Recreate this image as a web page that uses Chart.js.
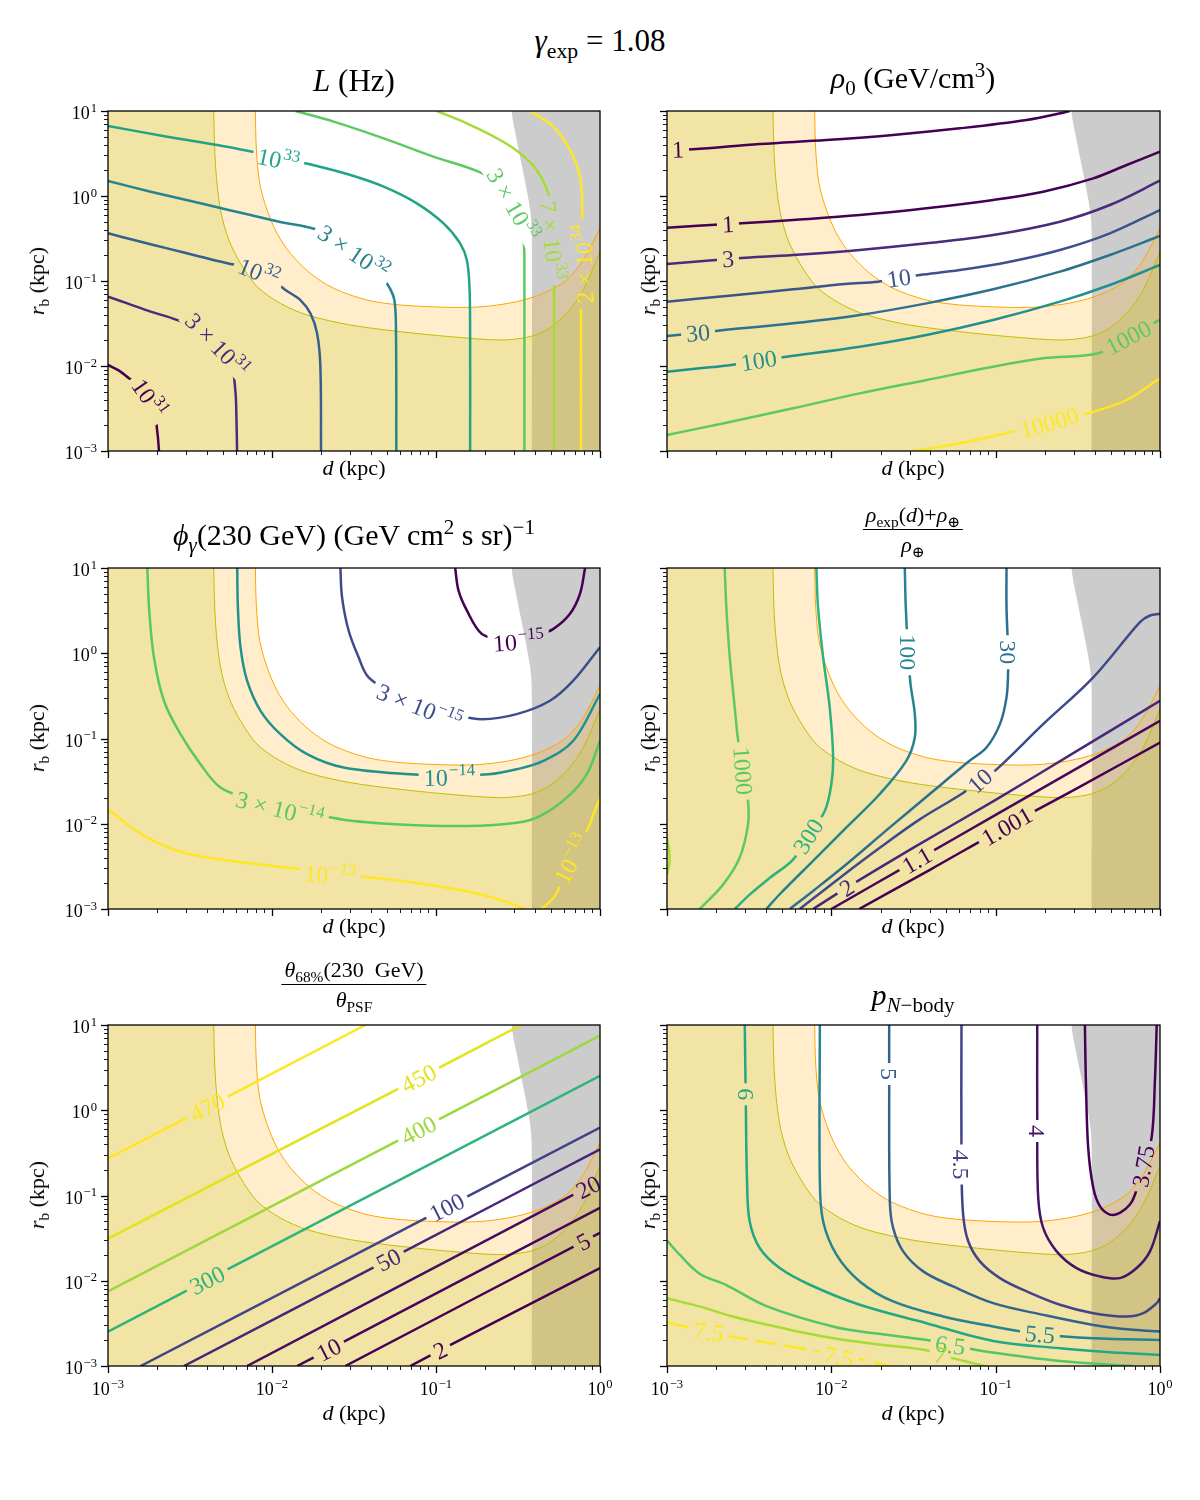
<!DOCTYPE html>
<html>
<head>
<meta charset="utf-8">
<script src="https://cdn.jsdelivr.net/npm/chart.js@4.4.1/dist/chart.umd.min.js"></script>
<style>
  body { margin: 0; background: #fff; }
  #fig { position: relative; width: 1200px; height: 1500px; font-family: 'Liberation Serif', 'DejaVu Serif', serif; color: #000; }
  #fig canvas { position: absolute; }
  .t { position: absolute; transform: translate(-50%, -50%); white-space: nowrap; line-height: 1; }
  .yl { transform: translate(-50%, -50%) rotate(-90deg); }
  sub, sup { font-size: 70%; line-height: 0; }
  .frac { display: inline-flex; flex-direction: column; align-items: center; }
  .frac .num { border-bottom: 1.3px solid #000; padding: 0 3px 3px; }
  .frac .den { padding-top: 4px; }
</style>
</head>
<body>
<div id="fig">
  <canvas id="c1" width="640" height="400" style="left:0;top:91px"></canvas>
  <canvas id="c2" width="560" height="400" style="left:640px;top:91px"></canvas>
  <canvas id="c3" width="640" height="401" style="left:0;top:548px"></canvas>
  <canvas id="c4" width="560" height="401" style="left:640px;top:548px"></canvas>
  <canvas id="c5" width="640" height="401" style="left:0;top:1005px"></canvas>
  <canvas id="c6" width="560" height="401" style="left:640px;top:1005px"></canvas>

  <div class="t" style="left:600px;top:40px;font-size:31px"><i>γ</i><sub>exp</sub> = 1.08</div>
  <div class="t" style="left:354px;top:80px;font-size:31px"><i>L</i> (Hz)</div>
  <div class="t" style="left:913px;top:78px;font-size:30px"><i>ρ</i><sub>0</sub> (GeV/cm<sup>3</sup>)</div>
  <div class="t" style="left:354px;top:535px;font-size:30px"><i>ϕ</i><sub><i>γ</i></sub>(230 GeV) (GeV cm<sup>2</sup> s sr)<sup>−1</sup></div>
  <div class="t" style="left:913px;top:530px;font-size:22px"><span class="frac"><span class="num"><i>ρ</i><sub>exp</sub>(<i>d</i>)+<i>ρ</i><sub>⊕</sub></span><span class="den"><i>ρ</i><sub>⊕</sub></span></span></div>
  <div class="t" style="left:354px;top:985px;font-size:22px"><span class="frac"><span class="num"><i>θ</i><sub>68%</sub>(230&nbsp; GeV)</span><span class="den"><i>θ</i><sub>PSF</sub></span></span></div>
  <div class="t" style="left:913px;top:995px;font-size:30px"><i>p</i><sub><i>N</i>−body</sub></div>

  <div class="t" style="left:354px;top:468px;font-size:22px"><i>d</i> (kpc)</div>
  <div class="t" style="left:913px;top:468px;font-size:22px"><i>d</i> (kpc)</div>
  <div class="t" style="left:354px;top:926px;font-size:22px"><i>d</i> (kpc)</div>
  <div class="t" style="left:913px;top:926px;font-size:22px"><i>d</i> (kpc)</div>
  <div class="t" style="left:354px;top:1413px;font-size:22px"><i>d</i> (kpc)</div>
  <div class="t" style="left:913px;top:1413px;font-size:22px"><i>d</i> (kpc)</div>

  <div class="t yl" style="left:37px;top:281px;font-size:22px"><i>r</i><sub>b</sub> (kpc)</div>
  <div class="t yl" style="left:648px;top:281px;font-size:22px"><i>r</i><sub>b</sub> (kpc)</div>
  <div class="t yl" style="left:37px;top:738px;font-size:22px"><i>r</i><sub>b</sub> (kpc)</div>
  <div class="t yl" style="left:648px;top:738px;font-size:22px"><i>r</i><sub>b</sub> (kpc)</div>
  <div class="t yl" style="left:37px;top:1195px;font-size:22px"><i>r</i><sub>b</sub> (kpc)</div>
  <div class="t yl" style="left:648px;top:1195px;font-size:22px"><i>r</i><sub>b</sub> (kpc)</div>
</div>

<script>
// every point below is [log10 d, log10 r_b]
const xTickExp = [-3, -2, -1, 0];
const yTickExp = [-3, -2, -1, 0, 1];

// shaded regions, same in all six panels
const orangeEdge = [[-2.101,1],[-2.095,0.541],[-2.075,0.149],[-2.030,-0.165],[-1.969,-0.439],[-1.888,-0.675],[-1.766,-0.910],[-1.624,-1.086],[-1.421,-1.224],[-1.218,-1.282],[-0.914,-1.310],[-0.711,-1.302],[-0.508,-1.243],[-0.345,-1.145],[-0.203,-0.988],[-0.102,-0.753],[0,-0.380],[0.08,-0.09]];
const oliveEdge = [[-2.355,1],[-2.344,0.345],[-2.314,-0.165],[-2.263,-0.518],[-2.192,-0.792],[-2.091,-1.067],[-1.949,-1.263],[-1.786,-1.400],[-1.522,-1.518],[-1.218,-1.596],[-0.914,-1.655],[-0.609,-1.694],[-0.447,-1.663],[-0.325,-1.576],[-0.203,-1.380],[-0.102,-1.106],[0,-0.655],[0.08,-0.30]];
const grayEdge = [[-0.538,1],[-0.508,0.659],[-0.467,0.267],[-0.426,-0.165],[-0.416,-0.439],[-0.416,-3]];

// panel 1: L (Hz)
const lumLevels = ['10^31', '3 × 10^31', '10^32', '3 × 10^32', '10^33', '3 × 10^33', '7 × 10^33', '2 × 10^34'];
const lumLines = [
  [[-3,-1.988],[-2.933,-2.055],[-2.872,-2.145],[-2.80,-2.25],[-2.736,-2.361],[-2.71,-2.55],[-2.704,-2.694],[-2.696,-2.831],[-2.689,-3]],
  [[-3,-1.184],[-2.882,-1.263],[-2.740,-1.361],[-2.608,-1.439],[-2.45,-1.56],[-2.324,-1.733],[-2.25,-1.95],[-2.223,-2.302],[-2.217,-2.596],[-2.213,-3]],
  [[-3,-0.439],[-2.842,-0.518],[-2.639,-0.616],[-2.436,-0.714],[-2.253,-0.800],[-2.074,-0.871],[-1.918,-1.106],[-1.827,-1.224],[-1.766,-1.380],[-1.725,-1.616],[-1.705,-2.008],[-1.701,-3]],
  [[-3,0.176],[-2.740,0.051],[-2.436,-0.086],[-2.131,-0.224],[-1.928,-0.314],[-1.776,-0.369],[-1.620,-0.470],[-1.494,-0.635],[-1.372,-0.847],[-1.293,-1.047],[-1.254,-1.224],[-1.244,-1.616],[-1.242,-3]],
  [[-3,0.824],[-2.639,0.698],[-2.334,0.6],[-2.141,0.529],[-1.958,0.455],[-1.776,0.376],[-1.522,0.247],[-1.319,0.110],[-1.117,-0.086],[-0.954,-0.322],[-0.853,-0.557],[-0.812,-0.753],[-0.796,-1.067],[-0.792,-1.616],[-0.792,-3]],
  [[-1.857,1],[-1.624,0.875],[-1.319,0.678],[-1.015,0.463],[-0.741,0.286],[-0.60,0.12],[-0.518,-0.086],[-0.475,-0.35],[-0.463,-0.6],[-0.461,-0.694],[-0.461,-3]],
  [[-0.995,1],[-0.812,0.855],[-0.609,0.659],[-0.487,0.502],[-0.386,0.306],[-0.315,0.031],[-0.288,-0.25],[-0.278,-0.518],[-0.280,-0.8],[-0.280,-1.125],[-0.280,-3]],
  [[-0.426,1],[-0.284,0.816],[-0.183,0.541],[-0.122,0.227],[-0.108,-0.224],[-0.114,-0.8],[-0.116,-1.361],[-0.116,-3]]
];
const lumLabelPos = [[0,-2.736,-2.361,55],[1,-2.324,-1.733,46],[2,-2.074,-0.871,22],[3,-1.494,-0.635,34],[4,-1.958,0.455,12],[5,-0.518,-0.086,60],[6,-0.278,-0.518,84],[7,-0.114,-0.8,-92]];
const lumColors = ['#440154','#472d7b','#355f8d','#25848e','#20a486','#5ec962','#a5db36','#fde725'];

// panel 2: rho_0 (GeV/cm^3)
const rhoLevels = ['1', '1', '3', '10', '30', '100', '1000', '10000'];
const rhoLines = [
  [[-3,0.555],[-2.933,0.549],[-2.842,0.549],[-2.436,0.612],[-2.030,0.659],[-1.624,0.718],[-1.218,0.796],[-0.812,0.894],[-0.589,0.980],[-0.55,1.0]],
  [[-3,-0.373],[-2.629,-0.33],[-2.547,-0.322],[-2.233,-0.282],[-1.827,-0.224],[-1.421,-0.145],[-1.015,-0.047],[-0.711,0.051],[-0.406,0.208],[-0.203,0.365],[0,0.522]],
  [[-3,-0.8],[-2.629,-0.74],[-2.547,-0.729],[-2.233,-0.694],[-1.827,-0.635],[-1.421,-0.557],[-1.015,-0.459],[-0.609,-0.302],[-0.305,-0.106],[0,0.180]],
  [[-3,-1.243],[-2.639,-1.176],[-2.233,-1.098],[-1.918,-1.035],[-1.715,-1.008],[-1.589,-0.965],[-1.462,-0.929],[-1.218,-0.871],[-0.914,-0.773],[-0.609,-0.635],[-0.305,-0.439],[0,-0.165]],
  [[-3,-1.647],[-2.811,-1.61],[-2.689,-1.584],[-2.233,-1.498],[-1.827,-1.4],[-1.421,-1.263],[-1.015,-1.098],[-0.609,-0.890],[-0.305,-0.694],[0,-0.471]],
  [[-3,-2.067],[-2.801,-2.027],[-2.608,-1.988],[-2.442,-1.935],[-2.274,-1.890],[-1.827,-1.773],[-1.421,-1.635],[-1.015,-1.459],[-0.609,-1.243],[-0.305,-1.047],[0,-0.812]],
  [[-3,-2.812],[-2.639,-2.667],[-2.233,-2.498],[-1.827,-2.322],[-1.421,-2.165],[-1.015,-2.008],[-0.711,-1.910],[-0.376,-1.851],[-0.193,-1.663],[-0.021,-1.478],[0,-1.455]],
  [[-1.502,-3],[-1.218,-2.910],[-0.924,-2.784],[-0.674,-2.667],[-0.426,-2.549],[-0.203,-2.4],[0,-2.145]]
];
const rhoLabelPos = [[0,-2.933,0.549,-2],[1,-2.629,-0.33,-3],[2,-2.629,-0.74,-3],[3,-1.589,-0.965,-8],[4,-2.811,-1.61,-5],[5,-2.442,-1.935,-9],[6,-0.193,-1.663,-28],[7,-0.674,-2.667,-16]];
const rhoColors = ['#440154','#440154','#472c7a','#3b528b','#2c728e','#21918c','#5ec962','#fde725'];

// panel 3: phi_gamma(230 GeV)
const phiLevels = ['10^−15', '3 × 10^−15', '10^−14', '3 × 10^−14', '10^−13', '10^−13'];
const phiLines = [
  [[-0.883,1],[-0.863,0.737],[-0.812,0.502],[-0.721,0.227],[-0.61,0.17],[-0.497,0.165],[-0.38,0.21],[-0.284,0.286],[-0.183,0.463],[-0.122,0.698],[-0.091,1]],
  [[-1.583,1],[-1.573,0.659],[-1.533,0.267],[-1.472,-0.047],[-1.411,-0.282],[-1.25,-0.48],[-1.096,-0.6],[-0.9,-0.71],[-0.721,-0.773],[-0.508,-0.714],[-0.305,-0.557],[-0.163,-0.322],[0,0.071]],
  [[-2.212,1],[-2.208,0.541],[-2.192,0.071],[-2.152,-0.322],[-2.070,-0.675],[-1.949,-0.949],[-1.786,-1.184],[-1.563,-1.341],[-1.157,-1.420],[-0.918,-1.425],[-0.680,-1.420],[-0.508,-1.361],[-0.345,-1.263],[-0.163,-1.027],[0,-0.478]],
  [[-2.760,1],[-2.750,0.541],[-2.720,-0.047],[-2.659,-0.557],[-2.558,-0.949],[-2.436,-1.302],[-2.314,-1.576],[-2.15,-1.70],[-1.949,-1.80],[-1.573,-1.949],[-1.218,-2.008],[-0.812,-2.027],[-0.508,-1.988],[-0.366,-1.910],[-0.203,-1.694],[-0.081,-1.420],[0,-1.027]],
  [[-3,-1.831],[-2.882,-2.008],[-2.740,-2.184],[-2.537,-2.341],[-2.233,-2.439],[-1.888,-2.518],[-1.644,-2.573],[-1.411,-2.627],[-1.117,-2.694],[-0.812,-2.792],[-0.609,-2.890],[-0.477,-2.988],[-0.46,-3]],
  [[-0.355,-3],[-0.284,-2.871],[-0.254,-2.773],[-0.183,-2.4],[-0.071,-2.047],[-0.041,-1.890],[-0.006,-1.733],[0.02,-1.62]]
];
const phiLabelPos = [[0,-0.497,0.165,-4],[1,-1.096,-0.6,22],[2,-0.918,-1.425,-1],[3,-1.949,-1.80,14],[4,-1.644,-2.573,5],[5,-0.183,-2.4,-62]];
const phiColors = ['#440154','#3e4c8a','#21918c','#58c765','#fde725','#fde725'];

// panel 4: (rho_exp(d) + rho_earth) / rho_earth
const ratioLevels = ['1.001', '1.1', '2', '10', '30', '100', '300', '1000', '3000'];
const ratioLines = [
  [[-1.831,-3],[-1.4,-2.54],[-0.932,-2.03],[-0.5,-1.58],[0,-1.047]],
  [[-2.0,-3],[-1.48,-2.426],[-1.0,-1.896],[-0.5,-1.344],[0,-0.792]],
  [[-2.111,-3],[-1.906,-2.75],[-1.5,-2.28],[-1.0,-1.72],[-0.5,-1.14],[0,-0.557]],
  [[-2.192,-3],[-1.949,-2.635],[-1.705,-2.282],[-1.462,-1.949],[-1.208,-1.651],[-1.096,-1.494],[-1.005,-1.380],[-0.711,-0.831],[-0.406,-0.282],[-0.122,0.365],[-0.061,0.443],[0,0.463]],
  [[-0.934,1],[-0.934,0.541],[-0.924,0.012],[-0.924,-0.204],[-0.934,-0.518],[-0.974,-0.831],[-1.056,-1.106],[-1.157,-1.259],[-1.401,-1.651],[-1.644,-2.043],[-1.908,-2.475],[-2.111,-2.788],[-2.253,-3]],
  [[-1.553,1],[-1.547,0.541],[-1.533,0.012],[-1.518,-0.361],[-1.492,-0.714],[-1.492,-0.988],[-1.543,-1.259],[-1.705,-1.651],[-1.908,-2.043],[-2.111,-2.435],[-2.314,-2.827],[-2.395,-3]],
  [[-2.091,1],[-2.081,0.541],[-2.050,-0.047],[-2.010,-0.635],[-1.989,-1.224],[-2.0,-1.537],[-2.040,-1.851],[-2.141,-2.145],[-2.233,-2.420],[-2.375,-2.635],[-2.497,-2.831],[-2.588,-3]],
  [[-2.649,1],[-2.639,0.541],[-2.618,-0.047],[-2.588,-0.635],[-2.568,-1.008],[-2.537,-1.380],[-2.507,-1.733],[-2.507,-2.008],[-2.558,-2.4],[-2.659,-2.714],[-2.801,-3]],
  [[-3,-2.17],[-2.988,-2.3],[-2.985,-2.45],[-3,-2.6]]
];
const ratioLabelPos = [[0,-0.932,-2.03,-30],[1,-1.48,-2.426,-30],[2,-1.906,-2.75,-32],[3,-1.096,-1.494,-42],[4,-0.924,0.012,90],[5,-1.533,0.012,90],[6,-2.141,-2.145,-58],[7,-2.537,-1.380,86]];
const ratioColors = ['#440154','#46085c','#482878','#3e4a89','#2d708e','#25858e','#2db27d','#5ec962','#aadc32'];

// panel 5: theta_68%(230 GeV) / theta_PSF
const thetaLevels = ['2', '5', '10', '20', '50', '100', '300', '400', '450', '470'];
const thetaLines = [
  [[-1.157,-3],[-0.974,-2.815],[0,-1.851]],
  [[-1.553,-3],[-0.102,-1.54],[0,-1.439]],
  [[-1.847,-3],[-1.654,-2.807],[0,-1.145]],
  [[-2.152,-3],[-0.071,-0.9],[0.05,-0.78]],
  [[-2.537,-3],[-1.289,-1.752],[0,-0.459]],
  [[-2.801,-3],[-0.934,-1.137],[0,-0.204]],
  [[-3,-2.596],[-2.395,-1.991],[0,0.404]],
  [[-3,-2.125],[-1.106,-0.231],[0,0.875]],
  [[-3,-1.506],[-1.106,0.375],[-0.48,1.0]],
  [[-3,-0.565],[-2.395,0.035],[-1.43,1.0]]
];
const thetaLabelPos = [[0,-0.974,-2.815,-27],[1,-0.102,-1.54,-27],[2,-1.654,-2.807,-27],[3,-0.071,-0.9,-27],[4,-1.289,-1.752,-27],[5,-0.934,-1.137,-27],[6,-2.395,-1.991,-27],[7,-1.106,-0.231,-27],[8,-1.106,0.375,-27],[9,-2.395,0.035,-27]];
const thetaColors = ['#440154','#440256','#46075a','#470d60','#482576','#414487','#2fb47c','#9bd93c','#e2e418','#fde725'];

// panel 6: p_N-body
const nbodyLevels = ['3.75', '4', '4.5', '5', '5.5', '6', '6.5', '7', '7.5'];
const nbodyLines = [
  [[-0.457,1],[-0.451,0.345],[-0.437,-0.439],[-0.406,-0.910],[-0.366,-1.125],[-0.305,-1.224],[-0.244,-1.204],[-0.183,-1.106],[-0.152,-0.988],[-0.102,-0.655],[-0.051,-0.322],[-0.031,0.345],[-0.020,1]],
  [[-0.747,1],[-0.747,-0.243],[-0.741,-1.027],[-0.711,-1.380],[-0.629,-1.655],[-0.508,-1.851],[-0.366,-1.949],[-0.244,-1.969],[-0.142,-1.851],[-0.061,-1.655],[0,-1.302]],
  [[-1.208,1],[-1.208,-0.635],[-1.198,-1.224],[-1.167,-1.537],[-1.096,-1.773],[-0.974,-1.969],[-0.812,-2.125],[-0.609,-2.282],[-0.406,-2.380],[-0.203,-2.420],[-0.102,-2.380],[-0.020,-2.263],[0,-2.204]],
  [[-1.648,1],[-1.648,0.424],[-1.644,-1.067],[-1.624,-1.380],[-1.563,-1.655],[-1.441,-1.890],[-1.259,-2.067],[-1.015,-2.263],[-0.711,-2.4],[-0.406,-2.518],[-0.163,-2.576],[0,-2.596]],
  [[-2.070,1],[-2.070,-0.831],[-2.050,-1.302],[-1.969,-1.694],[-1.827,-2.008],[-1.624,-2.243],[-1.319,-2.419],[-1.015,-2.537],[-0.731,-2.627],[-0.406,-2.675],[0,-2.694]],
  [[-2.527,1],[-2.521,0.188],[-2.513,-0.831],[-2.497,-1.302],[-2.436,-1.616],[-2.314,-1.851],[-2.131,-2.047],[-1.827,-2.282],[-1.421,-2.498],[-1.015,-2.706],[-0.609,-2.792],[-0.305,-2.839],[0,-2.871]],
  [[-3,-1.530],[-2.923,-1.694],[-2.799,-1.92],[-2.639,-2.05],[-2.391,-2.30],[-1.985,-2.539],[-1.725,-2.62],[-1.418,-2.695],[-1.276,-2.755],[-1.052,-2.832],[-0.609,-2.94],[-0.163,-3.0]],
  [[-3,-2.206],[-2.797,-2.304],[-2.594,-2.422],[-2.290,-2.558],[-1.985,-2.675],[-1.681,-2.754],[-1.428,-2.812],[-1.337,-2.87],[-1.052,-3.008]],
  [[-3,-2.49],[-2.980,-2.499],[-2.746,-2.598],[-2.604,-2.656],[-2.300,-2.754],[-2.107,-2.821],[-1.955,-2.891],[-1.803,-2.930],[-1.641,-3.008]]
];
const nbodyLabelPos = [[0,-0.102,-0.655,-80],[1,-0.747,-0.243,90],[2,-1.208,-0.635,90],[3,-1.648,0.424,90],[4,-0.731,-2.627,5],[5,-2.521,0.188,90],[6,-1.276,-2.755,8],[7,-1.337,-2.87,12],[8,-2.746,-2.598,8],[8,-1.955,-2.891,12]];
const nbodyColors = ['#440154','#471365','#414487','#33638d','#26838f','#22a884','#54c568','#a8db34','#fde725'];
const nbodyDashed = [8];

const FONT = "'Liberation Serif', 'DejaVu Serif', serif";
const LABEL_SIZE = 24;
const TICK_SIZE = 18;

const toXY = ([a, b]) => ({x: 10 ** a, y: 10 ** b});

function textWidth(ctx, str, size) {
  const [base, sup] = str.split('^');
  ctx.font = size + 'px ' + FONT;
  let w = ctx.measureText(base).width;
  if (sup) {
    ctx.font = (size * 0.7) + 'px ' + FONT;
    w += ctx.measureText(sup).width + size * 0.05;
  }
  return w;
}

// draws "base^sup" with a raised exponent, centred (or right aligned) on x,y
function mathText(ctx, str, x, y, size, color, rot, align) {
  const [base, sup] = str.split('^');
  const w = textWidth(ctx, str, size);
  ctx.font = size + 'px ' + FONT;
  const wb = ctx.measureText(base).width;
  const x0 = align === 'right' ? -w : -w / 2;
  const yb = sup ? size * 0.45 : size * 0.34;
  ctx.save();
  ctx.translate(x, y);
  ctx.rotate((rot || 0) * Math.PI / 180);
  ctx.fillStyle = color;
  ctx.textAlign = 'left';
  ctx.textBaseline = 'alphabetic';
  ctx.fillText(base, x0, yb);
  if (sup) {
    ctx.font = (size * 0.7) + 'px ' + FONT;
    ctx.fillText(sup, x0 + wb + size * 0.05, yb - size * 0.42);
  }
  ctx.restore();
}

function toPx(chart, lx, ly) {
  return [chart.scales.x.getPixelForValue(10 ** lx), chart.scales.y.getPixelForValue(10 ** ly)];
}

// contour labels (line is cut under each label), frame and log ticks
const decorPlugin = {
  id: 'decor',
  beforeDatasetDraw(chart, args) {
    const ds = chart.data.datasets[args.index];
    if (!ds.clabels) return;
    const ctx = chart.ctx;
    ctx.save();
    ctx.beginPath();
    ctx.rect(0, 0, chart.width, chart.height);
    ds.clabels.forEach(lb => {
      const [cx, cy] = toPx(chart, lb.at[0], lb.at[1]);
      const w = textWidth(ctx, lb.text, LABEL_SIZE) / 2 + 5;
      const h = LABEL_SIZE * 0.55;
      const a = lb.rot * Math.PI / 180, c = Math.cos(a), s = Math.sin(a);
      const pts = [[-w, -h], [w, -h], [w, h], [-w, h]].map(([u, v]) => [cx + u * c - v * s, cy + u * s + v * c]);
      ctx.moveTo(pts[0][0], pts[0][1]);
      for (let i = 1; i < 4; i++) ctx.lineTo(pts[i][0], pts[i][1]);
      ctx.closePath();
    });
    ctx.clip('evenodd');
  },
  afterDatasetDraw(chart, args) {
    if (chart.data.datasets[args.index].clabels) chart.ctx.restore();
  },
  afterDatasetsDraw(chart) {
    const ctx = chart.ctx;
    const a = chart.chartArea;
    ctx.save();
    ctx.beginPath();
    ctx.rect(a.left, a.top, a.right - a.left, a.bottom - a.top);
    ctx.clip();
    chart.data.datasets.forEach(ds => {
      (ds.clabels || []).forEach(lb => {
        const [cx, cy] = toPx(chart, lb.at[0], lb.at[1]);
        mathText(ctx, lb.text, cx, cy, LABEL_SIZE, ds.borderColor, lb.rot, 'center');
      });
    });
    ctx.restore();
  },
  afterDraw(chart, args, opts) {
    const ctx = chart.ctx;
    const a = chart.chartArea;
    const xs = chart.scales.x, ys = chart.scales.y;
    ctx.save();
    ctx.strokeStyle = '#000';
    xTickExp.forEach(e => {
      for (let k = 1; k <= 9; k++) {
        const v = k * 10 ** e;
        if (v > 1.0001) break;
        const x = Math.round(xs.getPixelForValue(v)) + 0.5;
        ctx.lineWidth = k === 1 ? 1.3 : 0.9;
        ctx.beginPath();
        ctx.moveTo(x, a.bottom);
        ctx.lineTo(x, a.bottom + (k === 1 ? 7 : 4));
        ctx.stroke();
      }
      if (opts.showX) {
        mathText(ctx, '10^' + (e < 0 ? '−' + (-e) : e), xs.getPixelForValue(10 ** e), a.bottom + 21, TICK_SIZE, '#000', 0, 'center');
      }
    });
    yTickExp.forEach(e => {
      for (let k = 1; k <= 9; k++) {
        const v = k * 10 ** e;
        if (v > 10.0001) break;
        const y = Math.round(ys.getPixelForValue(v)) + 0.5;
        ctx.lineWidth = k === 1 ? 1.3 : 0.9;
        ctx.beginPath();
        ctx.moveTo(a.left, y);
        ctx.lineTo(a.left - (k === 1 ? 7 : 4), y);
        ctx.stroke();
      }
      if (opts.showY) {
        mathText(ctx, '10^' + (e < 0 ? '−' + (-e) : e), a.left - 11, ys.getPixelForValue(10 ** e), TICK_SIZE, '#000', 0, 'right');
      }
    });
    ctx.lineWidth = 1.3;
    ctx.strokeRect(a.left, a.top, a.right - a.left, a.bottom - a.top);
    ctx.restore();
  }
};

function shade(points, fillColor, lineColor, order) {
  return {
    data: points.map(toXY),
    showLine: true,
    fill: 'shape',
    backgroundColor: fillColor,
    borderColor: lineColor || 'rgba(0,0,0,0)',
    borderWidth: lineColor ? 1 : 0,
    tension: 0.3,
    pointRadius: 0,
    order: order
  };
}

const grayPoly = [[-0.538, 2], ...grayEdge, [-0.416, -4], [1.5, -4], [1.5, 2]];
const orangePoly = [[-4, -4], [-4, 2], [orangeEdge[0][0], 2], ...orangeEdge, [1.5, -0.09], [1.5, -4]];
const olivePoly = [[-4, -4], [-4, 2], [oliveEdge[0][0], 2], ...oliveEdge, [1.5, -0.30], [1.5, -4]];

function makePanel(id, levels, lines, labelPos, colors, dashed, showX, showY, left) {
  const sets = lines.map((pts, i) => ({
    data: pts.map(toXY),
    showLine: true,
    borderColor: colors[i],
    borderWidth: 2.5,
    borderDash: dashed.includes(i) ? [22, 8] : [],
    tension: 0.35,
    pointRadius: 0,
    fill: false,
    order: 0,
    clabels: labelPos.filter(p => p[0] === i).map(p => ({text: levels[i], at: [p[1], p[2]], rot: p[3]}))
  }));
  sets.push(shade(olivePoly, 'rgba(191,191,0,0.2)', '#bfbf00', 1));
  sets.push(shade(orangePoly, 'rgba(255,165,0,0.2)', '#ffa500', 2));
  sets.push(shade(grayPoly, 'rgba(0,0,0,0.2)', null, 3));

  new Chart(document.getElementById(id), {
    type: 'scatter',
    data: {datasets: sets},
    options: {
      responsive: false,
      animation: false,
      events: [],
      layout: {padding: left ? {left: 108, right: 40, top: 20, bottom: 40} : {left: 27, right: 40, top: 20, bottom: 40}},
      elements: {line: {capBezierPoints: false}, point: {radius: 0}},
      scales: {
        x: {type: 'logarithmic', min: 1e-3, max: 1, display: false},
        y: {type: 'logarithmic', min: 1e-3, max: 10, display: false}
      },
      plugins: {legend: {display: false}, tooltip: {enabled: false}, decor: {showX: showX, showY: showY}}
    },
    plugins: [decorPlugin]
  });
}

makePanel('c1', lumLevels, lumLines, lumLabelPos, lumColors, [], false, true, true);
makePanel('c2', rhoLevels, rhoLines, rhoLabelPos, rhoColors, [], false, false, false);
makePanel('c3', phiLevels, phiLines, phiLabelPos, phiColors, [], false, true, true);
makePanel('c4', ratioLevels, ratioLines, ratioLabelPos, ratioColors, [], false, false, false);
makePanel('c5', thetaLevels, thetaLines, thetaLabelPos, thetaColors, [], true, true, true);
makePanel('c6', nbodyLevels, nbodyLines, nbodyLabelPos, nbodyColors, nbodyDashed, true, false, false);
</script>
</body>
</html>
